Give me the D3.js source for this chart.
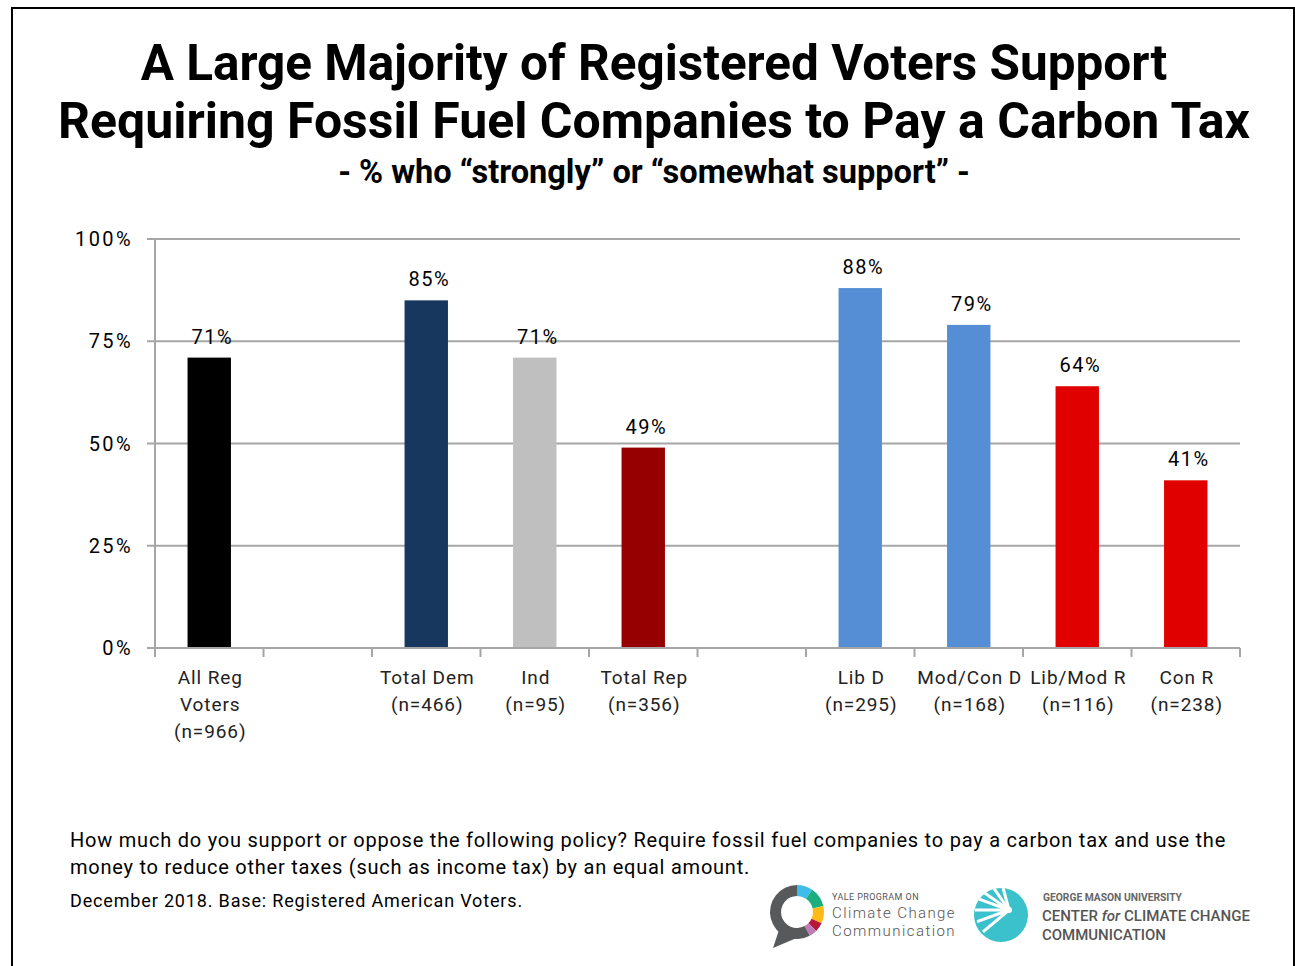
<!DOCTYPE html>
<html>
<head>
<meta charset="utf-8">
<script src="https://cdn.jsdelivr.net/npm/d3@7"></script>
<style>
  html, body { margin: 0; padding: 0; background: #fff; }
  svg { display: block; }
  text { font-family: Roboto, "Noto Sans", sans-serif; }
</style>
</head>
<body>
<svg id="chart" width="1295" height="966"></svg>
<script>
// ---- data ----
const categories = ["All Reg|Voters|(n=966)", "gap1", "Total Dem|(n=466)", "Ind|(n=95)", "Total Rep|(n=356)", "gap2", "Lib D|(n=295)", "Mod/Con D|(n=168)", "Lib/Mod R|(n=116)", "Con R|(n=238)"];
const values = [71, null, 85, 71, 49, null, 88, 79, 64, 41];
const barColors = ["#000000", null, "#17375E", "#BFBFBF", "#960000", null, "#558ED5", "#558ED5", "#E00000", "#E00000"];
const yTicks = [0, 25, 50, 75, 100];
const titleLines = ["A Large Majority of Registered Voters Support", "Requiring Fossil Fuel Companies to Pay a Carbon Tax"];
const subtitle = "- % who \u201Cstrongly\u201D or \u201Csomewhat support\u201D -";
const noteLines = ["How much do you support or oppose the following policy? Require fossil fuel companies to pay a carbon tax and use the", "money to reduce other taxes (such as income tax) by an equal amount."];
const sourceLine = "December 2018. Base: Registered American Voters.";

const svg = d3.select("#chart");

// frame
svg.append("rect").attr("x", 12).attr("y", 8).attr("width", 1282).attr("height", 970)
  .attr("fill", "none").attr("stroke", "#000").attr("stroke-width", 2);

// helpers
function fitSize(sel, w) {
  const fs = +sel.attr("font-size");
  const len = sel.node().getComputedTextLength();
  sel.attr("font-size", (fs * w / len).toFixed(2));
}
function fitSpacing(sel, w) {
  const len = sel.node().getComputedTextLength();
  const n = sel.text().length;
  sel.attr("letter-spacing", ((w - len) / n).toFixed(3));
}

// title
const t1 = svg.append("text").attr("x", 654).attr("y", 80).attr("text-anchor", "middle")
  .attr("font-size", 52).attr("font-weight", 700).attr("fill", "#000").text(titleLines[0]);
fitSize(t1, 1027);
const t2 = svg.append("text").attr("x", 654).attr("y", 138).attr("text-anchor", "middle")
  .attr("font-size", 52).attr("font-weight", 700).attr("fill", "#000").text(titleLines[1]);
fitSize(t2, 1192);
const st = svg.append("text").attr("x", 654).attr("y", 183).attr("text-anchor", "middle")
  .attr("font-size", 31).attr("font-weight", 700).attr("fill", "#000").text(subtitle);
fitSize(st, 632);

// scales
const x = d3.scaleBand().domain(categories).range([155, 1240]).paddingInner(0).paddingOuter(0);
const y = d3.scaleLinear().domain([0, 100]).range([648, 239]);
const barW = x.bandwidth() * 0.4;

// gridlines
svg.append("g").selectAll("line").data(yTicks).join("line")
  .attr("x1", 147).attr("x2", 1240)
  .attr("y1", d => y(d)).attr("y2", d => y(d))
  .attr("stroke", "#A6A6A6").attr("stroke-width", 2);

// y axis line
svg.append("line").attr("x1", 155).attr("x2", 155).attr("y1", 239).attr("y2", 648)
  .attr("stroke", "#A6A6A6").attr("stroke-width", 2);

// y tick labels
svg.append("g").selectAll("text").data(yTicks).join("text")
  .attr("x", 133).attr("y", d => y(d)).attr("dy", "0.35em")
  .attr("text-anchor", "end").attr("font-size", 20).attr("letter-spacing", 2.4)
  .attr("fill", "#000").text(d => d + "%");

// x ticks
const boundaries = categories.map(c => x(c)).concat([x.range()[1]]);
svg.append("g").selectAll("line").data(boundaries).join("line")
  .attr("x1", d => d).attr("x2", d => d).attr("y1", 648).attr("y2", 657)
  .attr("stroke", "#A6A6A6").attr("stroke-width", 2);

// bars
const idx = d3.range(categories.length).filter(i => values[i] != null);
svg.append("g").selectAll("rect").data(idx).join("rect")
  .attr("x", i => x(categories[i]) + x.bandwidth() / 2 - barW / 2)
  .attr("width", barW)
  .attr("y", i => y(values[i]))
  .attr("height", i => y(0) - y(values[i]))
  .attr("fill", i => barColors[i]);

// re-draw axis baseline on top
svg.append("line").attr("x1", 147).attr("x2", 1240).attr("y1", 648).attr("y2", 648)
  .attr("stroke", "#A6A6A6").attr("stroke-width", 2);

// value labels
svg.append("g").selectAll("text").data(idx).join("text")
  .attr("x", i => x(categories[i]) + x.bandwidth() / 2 + 3)
  .attr("y", i => y(values[i]) - 14)
  .attr("text-anchor", "middle").attr("font-size", 20).attr("letter-spacing", 1.5)
  .attr("fill", "#000").text(i => values[i] + "%");

// category labels
const catG = svg.append("g");
categories.forEach((c, i) => {
  if (values[i] == null) return;
  const lines = c.split("|");
  const t = catG.append("text").attr("text-anchor", "middle")
    .attr("font-size", 19).attr("letter-spacing", 0.9).attr("fill", "#222");
  lines.forEach((l, k) => {
    t.append("tspan").attr("x", x(c) + x.bandwidth() / 2 + 1).attr("y", 684 + k * 27).text(l);
  });
});

// notes
const noteW = [1156, 680];
noteLines.forEach((l, k) => {
  const t = svg.append("text").attr("x", 70).attr("y", 847 + k * 27).attr("font-size", 20)
    .attr("fill", "#000").text(l);
  fitSpacing(t, noteW[k]);
});
const src = svg.append("text").attr("x", 70).attr("y", 907).attr("font-size", 18).attr("fill", "#000").text(sourceLine);
fitSpacing(src, 453);

// ---- Yale logo ----
const yl = svg.append("g").attr("transform", "translate(797,912)");
const arc = d3.arc().innerRadius(16).outerRadius(27);
const segs = [
  { s: 0, e: 0.6, c: "#3FBDE8" },
  { s: 0.6, e: 1.35, c: "#1BAF7E" },
  { s: 1.35, e: 2.0, c: "#FDBB1A" },
  { s: 2.0, e: 2.35, c: "#B5163A" },
  { s: 2.35, e: 2.65, c: "#C07BB5" },
  { s: 2.65, e: 2 * Math.PI, c: "#58595B" }
];
segs.forEach(d => yl.append("path").attr("d", arc({ startAngle: d.s, endAngle: d.e })).attr("fill", d.c));
yl.append("path").attr("d", "M-18,18 L-24,36 L2,25 Z").attr("fill", "#58595B");
const ya = svg.append("text").attr("x", 832).attr("y", 900).attr("font-size", 9).attr("fill", "#555").text("YALE PROGRAM ON");
fitSpacing(ya, 87);
const yb = svg.append("text").attr("x", 832).attr("y", 918).attr("font-size", 15).attr("font-weight", 300).attr("fill", "#555").text("Climate Change");
fitSpacing(yb, 124);
const yc = svg.append("text").attr("x", 832).attr("y", 936).attr("font-size", 15).attr("font-weight", 300).attr("fill", "#555").text("Communication");
fitSpacing(yc, 124);

// ---- GMU logo ----
const gm = svg.append("g").attr("transform", "translate(1001,915)");
gm.append("circle").attr("r", 27).attr("fill", "#3BC1CB");
const rays = [200, 215, 235, 160, 140, 255, 180];
rays.forEach(a => {
  const r = a * Math.PI / 180;
  gm.append("path")
    .attr("d", `M8,-5 L${8 + 34 * Math.cos(r)},${-5 + 34 * Math.sin(r)}`)
    .attr("stroke", "#fff").attr("stroke-width", 3).attr("fill", "none");
});
gm.append("circle").attr("cx", 8).attr("cy", -5).attr("r", 3).attr("fill", "#fff");
const ga = svg.append("text").attr("x", 1043).attr("y", 901).attr("font-size", 10).attr("font-weight", 700).attr("fill", "#666").text("GEORGE MASON UNIVERSITY");
fitSize(ga, 139);
const ct = svg.append("text").attr("x", 1042).attr("y", 921).attr("font-size", 17).attr("font-weight", 500).attr("fill", "#555");
ct.append("tspan").text("CENTER ");
ct.append("tspan").attr("font-style", "italic").text("for");
ct.append("tspan").text(" CLIMATE CHANGE");
fitSize(ct, 208);
const cm = svg.append("text").attr("x", 1042).attr("y", 940).attr("font-size", 17).attr("font-weight", 500).attr("fill", "#555").text("COMMUNICATION");
fitSize(cm, 124);
</script>
</body>
</html>
